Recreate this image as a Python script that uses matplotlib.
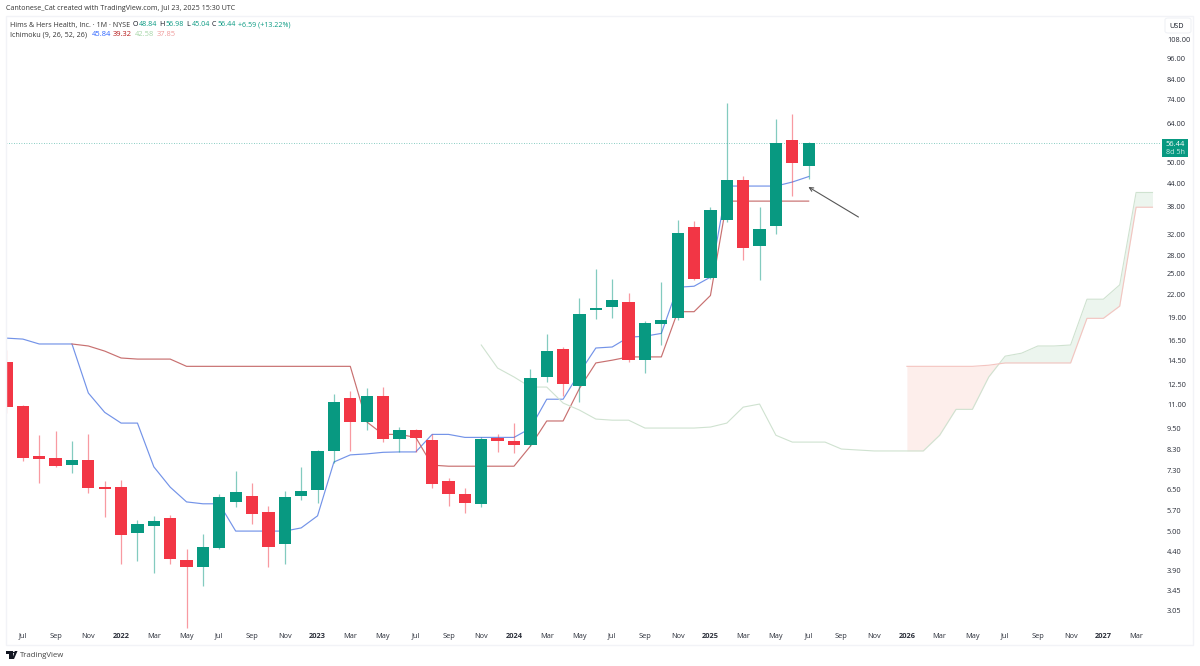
#%%
import numpy as np
import matplotlib
matplotlib.use('Agg')
import matplotlib.pyplot as plt
from matplotlib.patches import Rectangle, FancyBboxPatch, Polygon, Circle
from matplotlib.ticker import NullFormatter, FuncFormatter

#%%
# monthly candles Jun 2021 .. Jul 2025
opens = [14.38, 10.92, 8.0, 7.9, 7.55, 7.8, 6.6,
         6.58, 4.93, 5.15, 5.43, 4.17, 4.0, 4.5, 6.0, 6.23, 5.63, 4.6, 6.23,
         6.46, 8.25, 11.5, 9.88, 11.6, 8.9, 9.4, 8.83, 6.85, 6.3, 5.93, 8.95,
         8.78, 8.55, 13.1, 15.65, 12.4, 19.9, 20.3, 20.9, 14.6, 18.2, 18.9, 33.4,
         24.3, 34.94, 44.9, 29.7, 33.6, 57.6, 48.84]
closes = [10.85, 7.9, 7.85, 7.5, 7.8, 6.54, 6.5,
          4.87, 5.23, 5.33, 4.2, 4.0, 4.53, 6.2, 6.4, 5.56, 4.53, 6.2, 6.42,
          8.25, 11.2, 9.88, 11.6, 8.9, 9.4, 8.95, 6.7, 6.3, 5.97, 8.87, 8.8,
          8.55, 13.0, 15.4, 12.5, 19.4, 20.2, 21.2, 14.6, 18.3, 18.75, 32.2, 24.1,
          37.2, 44.87, 29.3, 33.0, 56.44, 49.9, 56.44]
highs = [15.5, 11.0, 9.1, 9.35, 8.78, 9.17, 6.84,
         6.88, 5.36, 5.5, 5.53, 4.47, 4.9, 6.3, 7.28, 6.74, 5.85, 6.42, 7.45,
         8.3, 11.8, 12.0, 12.2, 12.3, 9.6, 9.45, 9.2, 6.95, 6.55, 9.0, 9.2,
         9.85, 13.8, 17.1, 15.8, 21.5, 25.8, 24.2, 22.2, 18.6, 23.7, 34.9, 34.7,
         37.9, 72.6, 46.0, 37.9, 65.8, 67.9, 56.98]
lows = [10.45, 7.75, 6.75, 7.45, 7.18, 6.34, 5.46,
        4.07, 4.15, 3.85, 4.08, 2.73, 3.55, 4.47, 5.8, 5.23, 4.0, 4.07, 6.07,
        5.95, 7.65, 8.25, 9.4, 8.72, 8.2, 8.2, 6.55, 5.85, 5.6, 5.8, 8.2,
        8.12, 8.5, 12.7, 11.6, 11.2, 18.8, 18.9, 14.4, 13.4, 16.0, 18.7, 24.0,
        24.2, 34.5, 27.2, 24.0, 32.1, 40.6, 45.04]

# ichimoku lines
conversion = [16.7, 16.6, 16.1, 16.1, 16.1, 11.85, 10.5,
              9.82, 9.82, 7.47, 6.58, 6.0, 5.93, 5.93, 5.0, 5.0, 5.0, 5.0, 5.1,
              5.5, 7.7, 8.05, 8.1, 8.18, 8.2, 8.2, 9.15, 9.15, 8.98, 8.98, 8.98,
              8.98, 9.5, 11.4, 11.4, 13.45, 15.7, 15.8, 16.8, 16.9, 17.2, 22.95, 23.1,
              24.45, 43.2, 43.2, 43.2, 43.2, 44.3, 45.84]
# base line starts Oct 2021
base = [16.1, 15.9, 15.4,
        14.75, 14.65, 14.65, 14.65, 14.0, 14.0, 14.0, 14.0, 14.0, 14.0, 14.0, 14.0,
        14.0, 14.0, 14.0, 9.9, 9.15, 9.15, 8.98, 7.55, 7.5, 7.5, 7.5, 7.5,
        7.5, 8.5, 9.95, 9.95, 12.2, 14.3, 14.55, 14.85, 14.85, 14.85, 19.7, 19.7,
        21.8, 39.32, 39.32, 39.32, 39.32, 39.32, 39.32]
# lead 1 starts Nov 2023, lead 2 shows from Jan 2026, both run to Apr 2027
lead_a = [16.0, 13.85,
          13.1, 12.3, 12.3, 11.13, 10.65, 10.07, 10.0, 10.0, 9.52, 9.52, 9.52, 9.52,
          9.58, 9.82, 10.85, 11.06, 9.1, 8.72, 8.72, 8.72, 8.35, 8.3, 8.25, 8.25,
          8.25, 8.25, 9.1, 10.7, 10.7, 13.1, 14.92, 15.2, 15.9, 15.9, 16.0, 21.3,
          21.3, 23.3, 41.5, 41.5]
lead_b = [14.0, 14.0, 14.0, 14.0, 14.0, 14.1, 14.3, 14.3, 14.3, 14.3, 14.3, 18.9,
          18.9, 20.4, 37.85, 37.85]

price_ticks = [108, 96, 84, 74, 64, 50, 44, 38, 32, 28, 25, 22, 19, 16.5, 14.5, 12.5,
               11, 9.5, 8.3, 7.3, 6.5, 5.7, 5.0, 4.4, 3.9, 3.45, 3.05]
time_labels = ['Jul', 'Sep', 'Nov', '2022', 'Mar', 'May', 'Jul', 'Sep', 'Nov',
               '2023', 'Mar', 'May', 'Jul', 'Sep', 'Nov',
               '2024', 'Mar', 'May', 'Jul', 'Sep', 'Nov',
               '2025', 'Mar', 'May', 'Jul', 'Sep', 'Nov',
               '2026', 'Mar', 'May', 'Jul', 'Sep', 'Nov',
               '2027', 'Mar']
last_price = 56.44

#%%
GREEN = '#089981'
RED = '#f23645'
TEXT = '#131722'
FONT = 'Open Sans'
W, H = 1200, 666
plt.rcParams['font.family'] = [FONT, 'DejaVu Sans']

def px(x, y):
    # figure fraction from image pixels
    return x / W, 1 - y / H

fig = plt.figure(figsize=(W / 100, H / 100), dpi=100, facecolor='white')
ax = fig.add_axes([6 / W, 1 - 645 / H, (1160 - 6) / W, (645 - 16) / H])

# pale frame around the chart and price scale
fig.add_artist(Rectangle(px(6, 645), 1187 / W, 629 / H, transform=fig.transFigure,
                         fc='none', ec='#f2f3f7', lw=1))

#%%
idx = np.arange(len(opens))
o, c, h, l = map(np.array, (opens, closes, highs, lows))
up = c >= o
colors = np.where(up, GREEN, RED)

# ichimoku goes under the candles
ax.plot(idx, conversion, color='#7393e8', lw=0.85, zorder=2)
ax.plot(idx[4:], base, color='#c87070', lw=0.85, zorder=2)

a_x = np.arange(29, 29 + len(lead_a))
b_x = a_x[-len(lead_b):]
a_tail = np.array(lead_a[-len(lead_b):])
b_arr = np.array(lead_b)
ax.plot(a_x, lead_a, color='#cfe2d0', lw=0.8, zorder=2)
ax.plot(b_x, b_arr, color='#f4c4c0', lw=0.8, zorder=2)
ax.fill_between(b_x, a_tail, b_arr, where=b_arr >= a_tail, interpolate=True,
                color='#fdeeeb', lw=0, zorder=1)
ax.fill_between(b_x, a_tail, b_arr, where=a_tail >= b_arr, interpolate=True,
                color='#ecf5ee', lw=0, zorder=1)

# wicks are thin and come out paler than the bodies
ax.vlines(idx, l, h, colors=colors, lw=0.9, alpha=0.5, zorder=3)
ax.bar(idx, np.abs(c - o), bottom=np.minimum(o, c), width=0.75, color=colors, lw=0, zorder=4)

ax.axhline(last_price, color='#62bdae', lw=0.6, ls=(0, (1, 2)), zorder=2)

# hand drawn arrow
ax.annotate('', xy=(48.98, 42.96), xytext=(52.04, 35.6),
            arrowprops=dict(arrowstyle='->', color='#555555', lw=0.8,
                            mutation_scale=7, shrinkA=0, shrinkB=0), zorder=5)

#%%
ax.set_yscale('log')
ax.set_xlim(-0.03, 70.46)
ax.set_ylim(138.2 * np.exp(-645 / 160), 138.2 * np.exp(-16 / 160))
ax.yaxis.tick_right()
ax.set_yticks(price_ticks)
ax.yaxis.set_major_formatter(FuncFormatter(lambda v, pos: '%.2f' % v))
ax.yaxis.set_minor_formatter(NullFormatter())
ax.tick_params(axis='y', which='both', length=0, pad=5, labelsize=5.3, labelcolor='#2a2e39')

ax.set_xticks(range(1, 1 + 2 * len(time_labels), 2))
ax.set_xticklabels(time_labels)
ax.tick_params(axis='x', length=0, direction='in', pad=-9, labelsize=5.3, labelcolor='#2a2e39')
for t, name in zip(ax.get_xticklabels(), time_labels):
    if name.isdigit():
        t.set_fontweight('bold')

for s in ax.spines.values():
    s.set_visible(False)

#%%
# texts above the chart
def label(x, y, s, color=TEXT, size=5.1, **kw):
    fx, fy = px(x, y)
    fig.text(fx, fy, s, color=color, fontsize=size, va='center', ha='left', **kw)

label(6, 9, 'Cantonese_Cat created with TradingView.com, Jul 23, 2025 15:30 UTC', color='#333333')
label(10, 25, 'Hims & Hers Health, Inc. · 1M · NYSE', color='#333333')
for x, s, col in [(133, 'O', TEXT), (139, '48.84', GREEN), (159, 'H', TEXT), (165, '56.98', GREEN),
                  (186, 'L', TEXT), (192, '45.04', GREEN), (212, 'C', TEXT), (217, '56.44', GREEN),
                  (238, '+6.59 (+13.22%)', GREEN)]:
    label(x, 25, s, color=col)
label(10, 35, 'Ichimoku (9, 26, 52, 26)', color='#333333')
for x, s, col in [(92, '45.84', '#2962ff'), (113, '39.32', '#b71c1c'),
                  (135, '42.58', '#a5d6a7'), (157, '37.85', '#ef9a9a')]:
    label(x, 35, s, color=col, size=5.4)

# last price tag on the scale
fig.add_artist(Rectangle(px(1162, 157), 26 / W, 18 / H, transform=fig.transFigure, fc=GREEN, ec='none'))
fx, fy = px(1175, 144)
fig.text(fx, fy, '56.44', color='white', fontsize=5.4, ha='center', va='center')
fx, fy = px(1175, 152.5)
fig.text(fx, fy, '8d 5h', color='#c9ece5', fontsize=5.2, ha='center', va='center')

# currency button
fx, fy = px(1165, 33)
fig.add_artist(FancyBboxPatch((fx, fy), 26 / W, 15 / H, boxstyle='round,pad=0,rounding_size=0.003',
                              transform=fig.transFigure, fc='white', ec='#f0f2f6', lw=0.8))
fx, fy = px(1177, 26)
fig.text(fx, fy, 'USD', color=TEXT, fontsize=5.2, ha='center', va='center')

# TradingView mark, bottom left
for pts in ([(6, 651), (12.5, 651), (12.5, 659), (9, 659), (9, 654), (6, 654)],
            [(14, 659), (17.5, 651), (14.8, 651), (12.2, 659)]):
    fig.add_artist(Polygon([px(*p) for p in pts], closed=True, transform=fig.transFigure,
                           fc=TEXT, ec='none'))
fx, fy = px(14, 652.5)
fig.add_artist(Circle((fx, fy), 1.2 / W, transform=fig.transFigure, fc=TEXT, ec='none'))
label(20, 655.5, 'TradingView', color='#444444', size=5.6)

fig.savefig('out.png', dpi=100, facecolor='white')
